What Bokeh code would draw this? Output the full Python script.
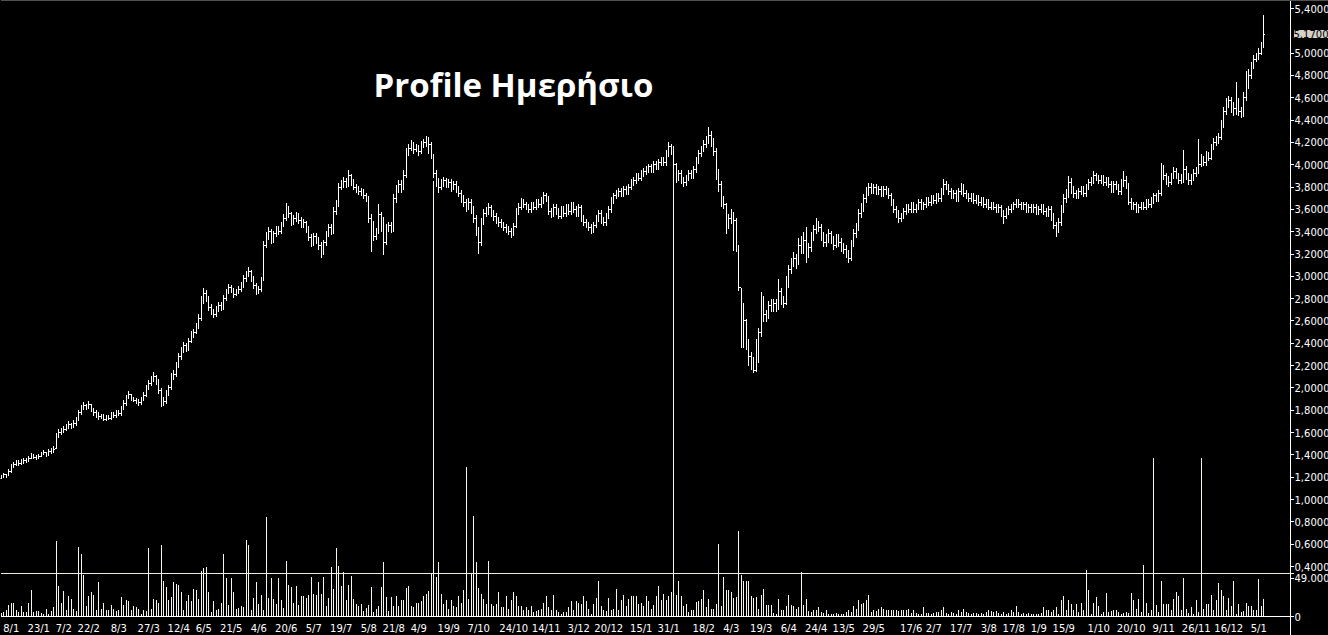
from bokeh.plotting import figure
from bokeh.models import Range1d, FixedTicker, Span, Label, ColumnDataSource, LinearAxis
from bokeh.embed import file_html
from bokeh.resources import INLINE

# ---------------- data ----------------
close = [
    1.20, 1.22, 1.21, 1.25, 1.30, 1.31, 1.33, 1.32, 1.34, 1.35,
    1.35, 1.37, 1.40, 1.38, 1.37, 1.39, 1.41, 1.42, 1.40, 1.43,
    1.44, 1.45, 1.57, 1.60, 1.62, 1.63, 1.65, 1.67, 1.66, 1.68,
    1.72, 1.78, 1.82, 1.84, 1.83, 1.85, 1.80, 1.78, 1.76, 1.74,
    1.75, 1.72, 1.74, 1.73, 1.76, 1.75, 1.78, 1.77, 1.82, 1.86,
    1.92, 1.94, 1.90, 1.89, 1.88, 1.87, 1.90, 1.93, 2.00, 2.04,
    2.08, 2.10, 2.06, 1.98, 1.86, 1.88, 1.95, 2.00, 2.10, 2.12,
    2.20, 2.28, 2.34, 2.38, 2.35, 2.42, 2.48, 2.50, 2.55, 2.62,
    2.78, 2.85, 2.80, 2.72, 2.68, 2.66, 2.70, 2.74, 2.72, 2.80,
    2.86, 2.90, 2.88, 2.84, 2.86, 2.88, 2.92, 2.98, 3.02, 3.04,
    2.98, 2.92, 2.86, 2.88, 2.96, 3.28, 3.36, 3.40, 3.32, 3.38,
    3.42, 3.40, 3.46, 3.52, 3.60, 3.56, 3.48, 3.52, 3.55, 3.50,
    3.46, 3.48, 3.42, 3.35, 3.30, 3.36, 3.32, 3.28, 3.22, 3.30,
    3.38, 3.44, 3.40, 3.58, 3.64, 3.80, 3.82, 3.85, 3.82, 3.90,
    3.84, 3.80, 3.78, 3.76, 3.75, 3.72, 3.70, 3.52, 3.46, 3.36,
    3.40, 3.55, 3.42, 3.30, 3.44, 3.46, 3.42, 3.70, 3.78, 3.82,
    3.80, 3.90, 4.12, 4.15, 4.18, 4.14, 4.16, 4.12, 4.18, 4.20,
    4.22, 4.18, 4.08, 3.92, 3.85, 3.80, 3.84, 3.86, 3.82, 3.84,
    3.80, 3.82, 3.78, 3.74, 3.70, 3.66, 3.62, 3.66, 3.60, 3.52,
    3.40, 3.30, 3.50, 3.56, 3.58, 3.62, 3.56, 3.54, 3.50, 3.48,
    3.46, 3.44, 3.42, 3.40, 3.38, 3.45, 3.58, 3.62, 3.66, 3.64,
    3.62, 3.60, 3.64, 3.62, 3.66, 3.64, 3.68, 3.72, 3.70, 3.58,
    3.56, 3.62, 3.58, 3.54, 3.60, 3.56, 3.62, 3.58, 3.64, 3.60,
    3.56, 3.62, 3.52, 3.48, 3.46, 3.44, 3.42, 3.46, 3.52, 3.56,
    3.50, 3.48, 3.54, 3.60, 3.68, 3.72, 3.74, 3.76, 3.74, 3.78,
    3.76, 3.80, 3.84, 3.86, 3.90, 3.88, 3.92, 3.94, 3.96, 3.98,
    3.96, 4.00, 3.98, 4.02, 4.04, 4.02, 4.10, 4.16, 4.12, 4.00,
    3.88, 3.92, 3.86, 3.84, 3.88, 3.92, 3.90, 3.96, 4.04, 4.10,
    4.14, 4.18, 4.22, 4.26, 4.20, 4.12, 3.90, 3.82, 3.70, 3.64,
    3.45, 3.52, 3.55, 3.50, 3.26, 2.90, 2.45, 2.60, 2.40, 2.28,
    2.22, 2.16, 2.40, 2.50, 2.80, 2.66, 2.64, 2.74, 2.72, 2.76,
    2.72, 2.86, 2.80, 2.76, 2.96, 3.06, 3.12, 3.16, 3.12, 3.28,
    3.24, 3.32, 3.20, 3.26, 3.36, 3.42, 3.46, 3.44, 3.36, 3.30,
    3.34, 3.38, 3.32, 3.28, 3.34, 3.30, 3.26, 3.24, 3.20, 3.16,
    3.30, 3.38, 3.44, 3.56, 3.62, 3.70, 3.76, 3.80, 3.78, 3.80,
    3.76, 3.78, 3.74, 3.78, 3.76, 3.72, 3.66, 3.60, 3.56, 3.52,
    3.54, 3.58, 3.62, 3.60, 3.64, 3.60, 3.62, 3.66, 3.62, 3.64,
    3.68, 3.66, 3.70, 3.68, 3.72, 3.70, 3.76, 3.82, 3.80, 3.76,
    3.72, 3.74, 3.70, 3.76, 3.80, 3.74, 3.72, 3.70, 3.72, 3.68,
    3.70, 3.66, 3.68, 3.64, 3.66, 3.62, 3.64, 3.62, 3.60, 3.62,
    3.56, 3.54, 3.58, 3.60, 3.62, 3.64, 3.66, 3.64, 3.62, 3.64,
    3.60, 3.62, 3.60, 3.62, 3.58, 3.60, 3.62, 3.58, 3.56, 3.60,
    3.54, 3.46, 3.42, 3.48, 3.60, 3.70, 3.74, 3.84, 3.78, 3.74,
    3.72, 3.76, 3.78, 3.74, 3.80, 3.84, 3.86, 3.90, 3.88, 3.86,
    3.88, 3.84, 3.86, 3.82, 3.78, 3.82, 3.80, 3.76, 3.84, 3.86,
    3.82, 3.66, 3.62, 3.64, 3.60, 3.62, 3.64, 3.62, 3.66, 3.64,
    3.68, 3.72, 3.70, 3.74, 3.96, 3.90, 3.86, 3.84, 3.90, 3.94,
    3.90, 3.86, 3.88, 3.96, 3.90, 3.86, 3.88, 3.92, 3.94, 4.00,
    4.04, 4.02, 4.08, 4.06, 4.16, 4.20, 4.22, 4.24, 4.36, 4.48,
    4.56, 4.58, 4.52, 4.50, 4.56, 4.48, 4.46, 4.60, 4.72, 4.80,
    4.88, 4.94, 4.96, 5.00, 5.08, 5.17,
]

open_ = [
    1.19, 1.20, 1.22, 1.22, 1.25, 1.30, 1.31, 1.33, 1.32, 1.34,
    1.35, 1.35, 1.37, 1.40, 1.38, 1.37, 1.39, 1.41, 1.42, 1.40,
    1.43, 1.44, 1.46, 1.57, 1.60, 1.62, 1.63, 1.65, 1.67, 1.66,
    1.68, 1.72, 1.78, 1.82, 1.84, 1.83, 1.85, 1.80, 1.78, 1.76,
    1.74, 1.75, 1.72, 1.74, 1.73, 1.76, 1.75, 1.78, 1.77, 1.82,
    1.86, 1.92, 1.94, 1.90, 1.89, 1.88, 1.87, 1.90, 1.93, 2.00,
    2.04, 2.08, 2.10, 2.06, 1.98, 1.86, 1.88, 1.95, 2.00, 2.10,
    2.12, 2.20, 2.28, 2.34, 2.38, 2.35, 2.42, 2.48, 2.50, 2.55,
    2.62, 2.78, 2.85, 2.80, 2.72, 2.68, 2.66, 2.70, 2.74, 2.72,
    2.80, 2.86, 2.90, 2.88, 2.84, 2.86, 2.88, 2.92, 2.98, 3.02,
    3.04, 2.98, 2.92, 2.86, 2.88, 2.98, 3.28, 3.36, 3.40, 3.32,
    3.38, 3.42, 3.40, 3.46, 3.52, 3.60, 3.56, 3.48, 3.52, 3.55,
    3.50, 3.46, 3.48, 3.42, 3.35, 3.30, 3.36, 3.32, 3.28, 3.22,
    3.30, 3.38, 3.44, 3.40, 3.58, 3.64, 3.80, 3.82, 3.85, 3.82,
    3.90, 3.84, 3.80, 3.78, 3.76, 3.75, 3.72, 3.70, 3.52, 3.46,
    3.36, 3.40, 3.55, 3.42, 3.30, 3.44, 3.46, 3.42, 3.70, 3.78,
    3.82, 3.80, 3.90, 4.12, 4.15, 4.18, 4.14, 4.16, 4.12, 4.18,
    4.20, 4.22, 4.18, 4.08, 3.92, 3.85, 3.80, 3.84, 3.86, 3.82,
    3.84, 3.80, 3.82, 3.78, 3.74, 3.70, 3.66, 3.62, 3.66, 3.60,
    3.52, 3.40, 3.30, 3.50, 3.56, 3.58, 3.62, 3.56, 3.54, 3.50,
    3.48, 3.46, 3.44, 3.42, 3.40, 3.38, 3.45, 3.58, 3.62, 3.66,
    3.64, 3.62, 3.60, 3.64, 3.62, 3.66, 3.64, 3.68, 3.72, 3.70,
    3.58, 3.56, 3.62, 3.58, 3.54, 3.60, 3.56, 3.62, 3.58, 3.64,
    3.60, 3.56, 3.62, 3.52, 3.48, 3.46, 3.44, 3.42, 3.46, 3.52,
    3.56, 3.50, 3.48, 3.54, 3.60, 3.68, 3.72, 3.74, 3.76, 3.74,
    3.78, 3.76, 3.80, 3.84, 3.86, 3.90, 3.88, 3.92, 3.94, 3.96,
    3.98, 3.96, 4.00, 3.98, 4.02, 4.04, 4.02, 4.10, 4.16, 4.12,
    4.00, 3.88, 3.92, 3.86, 3.84, 3.88, 3.92, 3.90, 3.96, 4.04,
    4.10, 4.14, 4.18, 4.22, 4.26, 4.20, 4.12, 3.90, 3.82, 3.70,
    3.64, 3.45, 3.52, 3.55, 3.50, 3.26, 2.90, 2.45, 2.60, 2.40,
    2.28, 2.22, 2.16, 2.40, 2.50, 2.80, 2.66, 2.64, 2.74, 2.72,
    2.76, 2.72, 2.86, 2.80, 2.76, 2.96, 3.06, 3.12, 3.16, 3.12,
    3.28, 3.24, 3.32, 3.20, 3.26, 3.36, 3.42, 3.46, 3.44, 3.36,
    3.30, 3.34, 3.38, 3.32, 3.28, 3.34, 3.30, 3.26, 3.24, 3.20,
    3.16, 3.30, 3.38, 3.44, 3.56, 3.62, 3.70, 3.76, 3.80, 3.78,
    3.80, 3.76, 3.78, 3.74, 3.78, 3.76, 3.72, 3.66, 3.60, 3.56,
    3.52, 3.54, 3.58, 3.62, 3.60, 3.64, 3.60, 3.62, 3.66, 3.62,
    3.64, 3.68, 3.66, 3.70, 3.68, 3.72, 3.70, 3.76, 3.82, 3.80,
    3.76, 3.72, 3.74, 3.70, 3.76, 3.80, 3.74, 3.72, 3.70, 3.72,
    3.68, 3.70, 3.66, 3.68, 3.64, 3.66, 3.62, 3.64, 3.62, 3.60,
    3.62, 3.56, 3.54, 3.58, 3.60, 3.62, 3.64, 3.66, 3.64, 3.62,
    3.64, 3.60, 3.62, 3.60, 3.62, 3.58, 3.60, 3.62, 3.58, 3.56,
    3.60, 3.54, 3.46, 3.42, 3.48, 3.60, 3.70, 3.74, 3.84, 3.78,
    3.74, 3.72, 3.76, 3.78, 3.74, 3.80, 3.84, 3.86, 3.90, 3.88,
    3.86, 3.88, 3.84, 3.86, 3.82, 3.78, 3.82, 3.80, 3.76, 3.84,
    3.86, 3.82, 3.66, 3.62, 3.64, 3.60, 3.62, 3.64, 3.62, 3.66,
    3.64, 3.68, 3.72, 3.70, 3.74, 3.96, 3.90, 3.86, 3.84, 3.90,
    3.94, 3.90, 3.86, 3.88, 3.96, 3.90, 3.86, 3.88, 3.92, 3.94,
    4.00, 4.04, 4.02, 4.08, 4.06, 4.16, 4.20, 4.22, 4.24, 4.36,
    4.48, 4.56, 4.58, 4.52, 4.50, 4.56, 4.48, 4.46, 4.60, 4.72,
    4.80, 4.88, 4.94, 4.96, 5.00, 5.08,
]

high = [
    1.22, 1.24, 1.23, 1.27, 1.32, 1.34, 1.35, 1.35, 1.36, 1.37,
    1.37, 1.39, 1.42, 1.41, 1.40, 1.41, 1.43, 1.44, 1.43, 1.45,
    1.46, 1.48, 1.60, 1.63, 1.64, 1.66, 1.68, 1.70, 1.69, 1.71,
    1.74, 1.80, 1.85, 1.87, 1.86, 1.88, 1.86, 1.82, 1.80, 1.78,
    1.77, 1.77, 1.76, 1.76, 1.78, 1.78, 1.80, 1.80, 1.84, 1.89,
    1.94, 1.97, 1.95, 1.92, 1.91, 1.90, 1.92, 1.96, 2.03, 2.07,
    2.11, 2.14, 2.12, 2.08, 2.00, 1.92, 1.98, 2.03, 2.13, 2.16,
    2.23, 2.31, 2.37, 2.41, 2.40, 2.45, 2.51, 2.53, 2.58, 2.66,
    2.82, 2.90, 2.88, 2.82, 2.75, 2.71, 2.73, 2.77, 2.77, 2.83,
    2.89, 2.93, 2.92, 2.90, 2.89, 2.91, 2.95, 3.01, 3.05, 3.08,
    3.06, 3.00, 2.94, 2.91, 2.99, 3.32, 3.40, 3.44, 3.42, 3.41,
    3.45, 3.45, 3.49, 3.56, 3.66, 3.63, 3.58, 3.55, 3.58, 3.57,
    3.53, 3.51, 3.50, 3.45, 3.38, 3.39, 3.39, 3.35, 3.31, 3.33,
    3.41, 3.47, 3.47, 3.62, 3.68, 3.84, 3.86, 3.89, 3.88, 3.95,
    3.92, 3.87, 3.83, 3.81, 3.79, 3.78, 3.75, 3.72, 3.56, 3.50,
    3.43, 3.65, 3.58, 3.53, 3.47, 3.49, 3.49, 3.74, 3.82, 3.86,
    3.86, 3.95, 4.15, 4.19, 4.22, 4.20, 4.19, 4.18, 4.21, 4.23,
    4.26, 4.25, 4.20, 4.10, 3.95, 3.88, 3.87, 3.89, 3.88, 3.87,
    3.87, 3.85, 3.85, 3.81, 3.77, 3.73, 3.69, 3.70, 3.69, 3.63,
    3.55, 3.44, 3.52, 3.60, 3.62, 3.66, 3.64, 3.59, 3.57, 3.53,
    3.51, 3.49, 3.47, 3.45, 3.43, 3.48, 3.61, 3.66, 3.70, 3.69,
    3.67, 3.65, 3.67, 3.67, 3.69, 3.69, 3.71, 3.76, 3.75, 3.72,
    3.61, 3.65, 3.65, 3.61, 3.63, 3.63, 3.65, 3.65, 3.67, 3.67,
    3.63, 3.65, 3.64, 3.55, 3.51, 3.49, 3.47, 3.49, 3.55, 3.59,
    3.59, 3.53, 3.57, 3.63, 3.71, 3.75, 3.77, 3.79, 3.79, 3.81,
    3.81, 3.83, 3.87, 3.89, 3.93, 3.93, 3.95, 3.97, 3.99, 4.01,
    4.01, 4.03, 4.03, 4.05, 4.07, 4.07, 4.13, 4.20, 4.19, 4.14,
    4.02, 3.95, 3.95, 3.89, 3.91, 3.95, 3.95, 3.99, 4.07, 4.13,
    4.17, 4.22, 4.26, 4.34, 4.30, 4.24, 4.15, 3.96, 3.85, 3.72,
    3.66, 3.56, 3.60, 3.58, 3.52, 3.28, 2.90, 2.76, 2.62, 2.44,
    2.32, 2.28, 2.44, 2.54, 2.86, 2.82, 2.70, 2.78, 2.80, 2.80,
    2.80, 2.98, 2.90, 2.82, 3.00, 3.10, 3.16, 3.22, 3.20, 3.34,
    3.36, 3.40, 3.44, 3.30, 3.40, 3.46, 3.52, 3.50, 3.47, 3.40,
    3.38, 3.42, 3.41, 3.36, 3.38, 3.38, 3.34, 3.30, 3.28, 3.24,
    3.33, 3.42, 3.48, 3.60, 3.66, 3.74, 3.80, 3.84, 3.84, 3.83,
    3.83, 3.81, 3.81, 3.81, 3.81, 3.79, 3.75, 3.69, 3.63, 3.59,
    3.57, 3.61, 3.65, 3.65, 3.67, 3.67, 3.65, 3.69, 3.69, 3.67,
    3.71, 3.71, 3.73, 3.73, 3.75, 3.75, 3.79, 3.87, 3.85, 3.83,
    3.79, 3.77, 3.77, 3.79, 3.84, 3.83, 3.77, 3.75, 3.75, 3.75,
    3.73, 3.73, 3.71, 3.71, 3.69, 3.69, 3.67, 3.67, 3.65, 3.65,
    3.64, 3.59, 3.61, 3.63, 3.65, 3.67, 3.69, 3.69, 3.67, 3.67,
    3.67, 3.65, 3.65, 3.65, 3.65, 3.63, 3.65, 3.65, 3.61, 3.63,
    3.63, 3.57, 3.49, 3.52, 3.64, 3.74, 3.78, 3.90, 3.88, 3.81,
    3.77, 3.79, 3.81, 3.81, 3.83, 3.87, 3.89, 3.94, 3.93, 3.91,
    3.91, 3.91, 3.89, 3.89, 3.85, 3.85, 3.85, 3.83, 3.87, 3.94,
    3.90, 3.84, 3.70, 3.67, 3.67, 3.65, 3.67, 3.67, 3.69, 3.69,
    3.71, 3.75, 3.75, 3.77, 4.02, 4.00, 3.93, 3.90, 3.93, 3.98,
    3.97, 3.93, 3.92, 4.13, 3.99, 3.93, 3.92, 3.96, 3.98, 4.23,
    4.10, 4.08, 4.12, 4.11, 4.19, 4.24, 4.26, 4.28, 4.40, 4.52,
    4.60, 4.62, 4.61, 4.56, 4.74, 4.60, 4.52, 4.65, 4.84, 4.86,
    4.92, 4.98, 5.00, 5.05, 5.10, 5.34,
]

low = [
    1.18, 1.19, 1.19, 1.21, 1.24, 1.28, 1.30, 1.30, 1.31, 1.32,
    1.33, 1.34, 1.36, 1.36, 1.35, 1.36, 1.38, 1.40, 1.38, 1.39,
    1.41, 1.42, 1.45, 1.55, 1.58, 1.60, 1.61, 1.63, 1.63, 1.64,
    1.66, 1.70, 1.76, 1.80, 1.80, 1.81, 1.78, 1.75, 1.73, 1.71,
    1.72, 1.70, 1.70, 1.71, 1.71, 1.73, 1.73, 1.75, 1.75, 1.80,
    1.84, 1.90, 1.88, 1.87, 1.86, 1.84, 1.85, 1.88, 1.92, 1.98,
    2.02, 2.05, 2.03, 1.95, 1.83, 1.84, 1.86, 1.93, 1.98, 2.07,
    2.10, 2.18, 2.25, 2.31, 2.32, 2.33, 2.40, 2.45, 2.48, 2.53,
    2.60, 2.75, 2.77, 2.69, 2.65, 2.63, 2.64, 2.68, 2.69, 2.70,
    2.78, 2.84, 2.85, 2.81, 2.82, 2.84, 2.86, 2.90, 2.95, 2.99,
    2.95, 2.89, 2.83, 2.84, 2.86, 2.96, 3.25, 3.33, 3.29, 3.30,
    3.35, 3.37, 3.38, 3.44, 3.50, 3.52, 3.45, 3.46, 3.49, 3.47,
    3.43, 3.43, 3.39, 3.32, 3.26, 3.27, 3.29, 3.24, 3.16, 3.19,
    3.27, 3.35, 3.37, 3.38, 3.55, 3.62, 3.77, 3.79, 3.79, 3.80,
    3.81, 3.77, 3.75, 3.73, 3.72, 3.69, 3.67, 3.48, 3.22, 3.32,
    3.33, 3.38, 3.40, 3.19, 3.28, 3.40, 3.39, 3.40, 3.66, 3.75,
    3.75, 3.77, 3.88, 4.08, 4.12, 4.10, 4.11, 4.08, 4.10, 4.15,
    4.16, 4.10, 4.05, 3.88, 3.80, 3.75, 3.77, 3.80, 3.79, 3.79,
    3.76, 3.77, 3.75, 3.71, 3.66, 3.62, 3.58, 3.59, 3.56, 3.48,
    3.36, 3.20, 3.27, 3.46, 3.53, 3.55, 3.53, 3.50, 3.47, 3.44,
    3.43, 3.41, 3.39, 3.37, 3.34, 3.36, 3.43, 3.55, 3.59, 3.61,
    3.59, 3.57, 3.57, 3.59, 3.59, 3.61, 3.61, 3.65, 3.67, 3.55,
    3.52, 3.53, 3.55, 3.51, 3.51, 3.53, 3.53, 3.55, 3.55, 3.57,
    3.53, 3.53, 3.49, 3.45, 3.43, 3.41, 3.38, 3.39, 3.43, 3.49,
    3.47, 3.45, 3.45, 3.51, 3.57, 3.65, 3.69, 3.71, 3.71, 3.71,
    3.73, 3.73, 3.77, 3.81, 3.83, 3.85, 3.85, 3.89, 3.91, 3.93,
    3.93, 3.93, 3.95, 3.95, 3.99, 3.99, 3.99, 4.07, 4.09, 3.96,
    3.84, 3.85, 3.83, 3.80, 3.81, 3.85, 3.87, 3.87, 3.93, 4.01,
    4.07, 4.11, 4.15, 4.19, 4.16, 4.08, 3.86, 3.76, 3.62, 3.60,
    3.38, 3.42, 3.47, 3.23, 3.22, 2.87, 2.36, 2.36, 2.34, 2.20,
    2.16, 2.13, 2.14, 2.22, 2.46, 2.59, 2.59, 2.62, 2.68, 2.68,
    2.68, 2.70, 2.74, 2.72, 2.74, 2.90, 3.02, 3.08, 3.07, 3.10,
    3.20, 3.20, 3.12, 3.16, 3.22, 3.32, 3.38, 3.40, 3.32, 3.26,
    3.26, 3.30, 3.29, 3.24, 3.25, 3.26, 3.22, 3.20, 3.16, 3.12,
    3.14, 3.26, 3.34, 3.41, 3.52, 3.58, 3.66, 3.72, 3.74, 3.74,
    3.73, 3.73, 3.71, 3.71, 3.73, 3.69, 3.63, 3.57, 3.52, 3.48,
    3.49, 3.51, 3.55, 3.57, 3.57, 3.57, 3.57, 3.59, 3.59, 3.59,
    3.61, 3.63, 3.63, 3.65, 3.65, 3.67, 3.67, 3.73, 3.77, 3.73,
    3.69, 3.69, 3.67, 3.67, 3.73, 3.71, 3.69, 3.67, 3.67, 3.65,
    3.65, 3.63, 3.63, 3.61, 3.61, 3.59, 3.59, 3.59, 3.57, 3.57,
    3.53, 3.47, 3.51, 3.55, 3.57, 3.59, 3.61, 3.61, 3.59, 3.59,
    3.57, 3.57, 3.57, 3.57, 3.55, 3.55, 3.57, 3.55, 3.53, 3.53,
    3.50, 3.42, 3.35, 3.39, 3.45, 3.57, 3.66, 3.70, 3.74, 3.70,
    3.69, 3.69, 3.73, 3.71, 3.71, 3.77, 3.81, 3.83, 3.85, 3.83,
    3.83, 3.81, 3.81, 3.79, 3.75, 3.75, 3.77, 3.73, 3.73, 3.80,
    3.78, 3.64, 3.59, 3.59, 3.57, 3.57, 3.59, 3.59, 3.59, 3.61,
    3.61, 3.65, 3.67, 3.67, 3.72, 3.86, 3.82, 3.80, 3.82, 3.87,
    3.87, 3.83, 3.83, 3.84, 3.86, 3.82, 3.82, 3.85, 3.89, 3.92,
    3.98, 3.99, 3.99, 4.03, 4.04, 4.13, 4.17, 4.19, 4.22, 4.33,
    4.45, 4.51, 4.46, 4.44, 4.45, 4.44, 4.42, 4.43, 4.57, 4.68,
    4.77, 4.86, 4.92, 4.94, 4.98, 5.05,
]

# volume in thousands of shares
volume_k = [
    4, 6, 8, 15, 18, 18, 8, 6, 13, 6,
    6, 17, 34, 6, 7, 7, 4, 3, 10, 3,
    7, 12, 97, 39, 17, 33, 8, 26, 23, 10,
    7, 89, 80, 53, 14, 27, 31, 28, 8, 45,
    10, 18, 8, 9, 15, 10, 7, 8, 25, 15,
    21, 20, 9, 13, 12, 10, 3, 8, 7, 88,
    10, 22, 21, 17, 92, 46, 38, 21, 25, 44,
    42, 41, 31, 9, 20, 28, 20, 36, 34, 23,
    59, 62, 64, 31, 6, 20, 8, 10, 17, 81,
    49, 15, 49, 31, 10, 11, 14, 12, 99, 92,
    9, 24, 44, 16, 28, 8, 128, 24, 49, 23,
    16, 49, 21, 11, 71, 41, 38, 17, 39, 15,
    27, 26, 24, 28, 51, 29, 28, 44, 29, 51,
    14, 24, 64, 36, 88, 65, 39, 57, 21, 40,
    52, 22, 16, 14, 16, 7, 11, 15, 38, 6,
    10, 13, 38, 70, 25, 7, 25, 14, 27, 14,
    21, 21, 37, 39, 13, 12, 18, 17, 20, 26,
    29, 33, 55, 562, 51, 70, 29, 16, 21, 10,
    21, 13, 12, 27, 18, 34, 193, 23, 55, 130,
    70, 37, 29, 23, 16, 72, 16, 13, 16, 31,
    12, 12, 26, 10, 21, 31, 26, 13, 14, 8,
    12, 8, 13, 6, 7, 8, 10, 17, 26, 12,
    8, 28, 8, 6, 3, 6, 6, 12, 20, 8,
    20, 17, 16, 27, 20, 10, 3, 16, 24, 46,
    13, 8, 7, 24, 9, 10, 36, 9, 21, 28,
    13, 23, 26, 27, 26, 16, 17, 13, 27, 20,
    10, 15, 27, 39, 21, 29, 21, 27, 31, 607,
    28, 46, 26, 13, 16, 6, 8, 8, 19, 20,
    23, 34, 12, 22, 10, 10, 16, 94, 14, 51,
    34, 34, 31, 24, 25, 110, 53, 46, 46, 46,
    26, 24, 25, 10, 28, 36, 15, 15, 15, 4,
    3, 23, 9, 9, 13, 28, 15, 13, 10, 12,
    57, 15, 22, 7, 6, 8, 8, 12, 6, 4,
    8, 3, 3, 3, 4, 3, 3, 3, 6, 9,
    6, 13, 10, 21, 16, 17, 21, 28, 6, 8,
    7, 10, 12, 10, 8, 9, 9, 8, 8, 7,
    8, 9, 8, 10, 4, 9, 4, 3, 3, 12,
    4, 4, 3, 4, 6, 6, 8, 12, 4, 3,
    6, 4, 3, 8, 6, 10, 6, 4, 3, 4,
    4, 3, 4, 3, 6, 8, 7, 6, 7, 4,
    3, 6, 3, 4, 8, 6, 13, 6, 3, 4,
    3, 4, 3, 3, 3, 3, 4, 12, 8, 8,
    6, 9, 12, 3, 21, 27, 9, 21, 16, 8,
    16, 6, 17, 9, 60, 34, 3, 18, 25, 14,
    3, 6, 30, 6, 7, 9, 8, 6, 3, 4,
    6, 4, 30, 21, 10, 23, 6, 67, 18, 4,
    8, 205, 15, 6, 46, 16, 16, 16, 9, 22,
    31, 27, 8, 49, 10, 4, 12, 3, 21, 6,
    205, 10, 16, 16, 28, 8, 21, 43, 34, 27,
    8, 24, 13, 46, 3, 16, 6, 7, 18, 13,
    14, 8, 8, 48, 14, 23,
]

# date axis: bar index of each label and its text
tick_index = [4, 15, 25, 35, 47, 59, 71, 81, 92, 103, 114, 125, 136, 147, 157,
              167, 179, 191, 205, 218, 231, 243, 256, 267, 281, 292, 304, 315,
              326, 337, 349, 364, 373, 384, 395, 405, 415, 425, 439, 452, 465,
              478, 491, 503]
tick_labels = ["8/1", "23/1", "7/2", "22/2", "8/3", "27/3", "12/4", "6/5", "21/5",
               "4/6", "20/6", "5/7", "19/7", "5/8", "21/8", "4/9", "19/9", "7/10",
               "24/10", "14/11", "3/12", "20/12", "15/1", "31/1", "18/2", "4/3",
               "19/3", "6/4", "24/4", "13/5", "29/5", "17/6", "2/7", "17/7", "3/8",
               "17/8", "1/9", "15/9", "1/10", "20/10", "9/11", "26/11", "16/12", "5/1"]

# price scale ticks (5,2000 is hidden behind the last-price marker)
price_ticks = [0.4, 0.6, 0.8, 1.0, 1.2, 1.4, 1.6, 1.8, 2.0, 2.2, 2.4, 2.6, 2.8,
               3.0, 3.2, 3.4, 3.6, 3.8, 4.0, 4.2, 4.4, 4.6, 4.8, 5.0, 5.4]
volume_tick_k = 49

# ---------------- layout ----------------
FRAME_W, FRAME_H = 1328, 635
PANE_BOTTOM_PX = 616     # baseline of the volume pane / date axis
AXIS_PX = 1290           # where the price scale sits inside the frame
BAR_PX = 2.5
X0 = -0.3
X1 = X0 + FRAME_W / BAR_PX
AXIS_X = X0 + AXIS_PX / BAR_PX
TICK_END_X = X0 + (AXIS_PX + 3) / BAR_PX
Y_HI = 5.4717
Y_BASE = -0.048          # price value at the pane bottom (616 px)
PX_PER_PRICE = PANE_BOTTOM_PX / (Y_HI - Y_BASE)
Y_LO = Y_HI - FRAME_H / PX_PER_PRICE
VOL_TOP = 794.3          # thousands at the top edge of the frame
VOL_PER_PX = VOL_TOP / PANE_BOTTOM_PX
VOL_LO = -(FRAME_H - PANE_BOTTOM_PX) * VOL_PER_PX
VOL_PANEL_TOP = 55.5     # separator between price and volume panes

n = len(close)
idx = list(range(n))
src = ColumnDataSource(dict(
    x=idx,
    xl=[i - 0.4 for i in idx],
    xr=[i + 0.4 for i in idx],
    o=open_, h=high, l=low, c=close,
    v0=[0] * n, v=volume_k,
))

p = figure(frame_width=FRAME_W, frame_height=FRAME_H,
           x_range=Range1d(X0, X1), y_range=Range1d(Y_LO, Y_HI),
           output_backend="svg", toolbar_location=None,
           x_axis_location=None, y_axis_location=None,
           min_border_left=0, min_border_top=0, min_border_right=0, min_border_bottom=0,
           background_fill_color="black", border_fill_color="black",
           outline_line_color=None)
p.extra_y_ranges = {"vol": Range1d(VOL_LO, VOL_TOP)}
p.grid.visible = False

# volume bars (drawn first; spikes run up into the price pane)
p.segment(x0="x", y0="v0", x1="x", y1="v", source=src, y_range_name="vol",
          line_color="#f6f6ea", line_width=1)

# OHLC bars
p.segment(x0="x", y0="l", x1="x", y1="h", source=src, line_color="white", line_width=1)
p.segment(x0="xl", y0="o", x1="x", y1="o", source=src, line_color="white", line_width=1)
p.segment(x0="x", y0="c", x1="xr", y1="c", source=src, line_color="white", line_width=1)

# separator between price and volume panes, and the top border
p.segment(x0=[X0], y0=[VOL_PANEL_TOP], x1=[TICK_END_X], y1=[VOL_PANEL_TOP],
          y_range_name="vol", line_color="#ecece0", line_width=1)
p.add_layout(Span(location=Y_HI, dimension="width", line_color="#a0a0a0", line_width=1))


def vol_to_price(v):
    return round(Y_BASE + v / VOL_TOP * (Y_HI - Y_BASE), 5)


last = close[-1]
# price scale drawn inside the frame at AXIS_X, plus the two volume ticks
v49 = vol_to_price(volume_tick_k)
v0 = vol_to_price(0)
ya = LinearAxis(fixed_location=AXIS_X)
ya.ticker = FixedTicker(ticks=price_ticks + [v49, v0])
overrides = {t: f"{t:.4f}".replace(".", ",") for t in price_ticks}
overrides[v49] = f"{volume_tick_k}.000"
overrides[v0] = "0"
ya.major_label_overrides = overrides
ya.axis_line_color = "white"
ya.major_tick_line_color = "white"
ya.major_tick_out = 3
ya.major_tick_in = 0
ya.minor_tick_line_color = None
ya.major_label_standoff = 1
ya.major_label_text_color = "white"
ya.major_label_text_font = "DejaVu Sans"
ya.major_label_text_font_size = "10px"
p.add_layout(ya, "right")

# bottom date axis, drawn at the volume-pane baseline
xa = LinearAxis(fixed_location=Y_BASE)
xa.ticker = FixedTicker(ticks=tick_index)
xa.major_label_overrides = {i: s for i, s in zip(tick_index, tick_labels)}
xa.bounds = (X0, TICK_END_X)
xa.axis_line_color = "white"
xa.major_tick_line_color = None
xa.major_tick_out = 0
xa.major_tick_in = 0
xa.minor_tick_line_color = None
xa.major_label_standoff = 6
xa.major_label_text_color = "white"
xa.major_label_text_font = "DejaVu Sans"
xa.major_label_text_font_size = "10px"
p.add_layout(xa, "below")


def px_to_x(px):
    return X0 + px / BAR_PX


def px_to_y(py):
    return Y_HI - py / PX_PER_PRICE


# title
p.add_layout(Label(x=px_to_x(373), y=px_to_y(84), text="Profile Ημερήσιο",
                   text_font="Open Sans", text_font_style="bold",
                   text_font_size="33px", text_color="white",
                   text_baseline="alphabetic"))

# last-price marker on the price scale
p.add_layout(Label(x=AXIS_X, y=last, x_offset=3,
                   text=f"{last:.4f}".replace(".", ","),
                   text_font="DejaVu Sans", text_font_size="10px",
                   text_color="black", text_baseline="middle",
                   background_fill_color="#d4d0c8"))

html = file_html(p, INLINE, title="Profile Ημερήσιο")
html = html.replace("</head>",
                    "<style>html,body{margin:0!important;padding:0;background:#000;"
                    "overflow:hidden;shape-rendering:crispEdges;}</style></head>", 1)
with open("out.html", "w", encoding="utf-8") as f:
    f.write(html)
